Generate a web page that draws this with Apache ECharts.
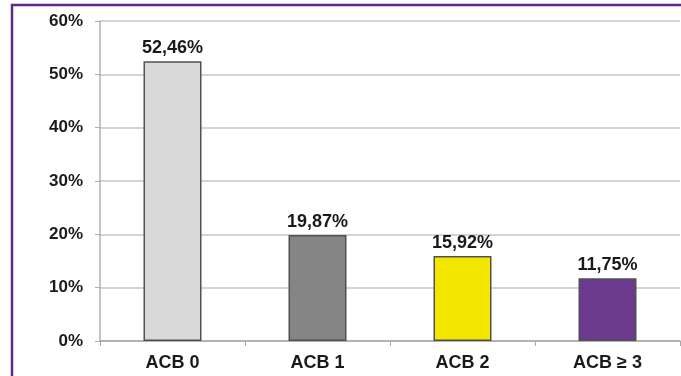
<!DOCTYPE html>
<html>
<head>
<meta charset="utf-8">
<script src="https://cdn.jsdelivr.net/npm/echarts@6/dist/echarts.min.js"></script>
<style>
  html, body { margin: 0; padding: 0; background: #fff; }
  #chart { width: 681px; height: 376px; }
</style>
</head>
<body>
<div id="chart"></div>
<script>
// ACB score groups and their share of patients
const categories = ['ACB 0', 'ACB 1', 'ACB 2', 'ACB \u2265 3'];
const shares = [52.46, 19.87, 15.92, 11.75];
const barColors = ['#d9d9d9', '#858585', '#f3e600', '#6b3a8e'];
const yTicks = [0, 10, 20, 30, 40, 50, 60];

const fontFamily = '"Liberation Sans", Arial, sans-serif';
const fmtPct = v => v.toFixed(2).replace('.', ',') + '%';

const chart = echarts.init(document.getElementById('chart'), null, { renderer: 'canvas' });

chart.setOption({
  animation: false,
  backgroundColor: '#ffffff',
  graphic: [{
    type: 'rect',
    shape: { x: 12, y: 5, width: 720, height: 420 },
    style: { fill: 'none', stroke: '#5c2a87', lineWidth: 2.5 },
    silent: true,
    z: 100
  }],
  grid: { left: 100, right: 1, top: 21, bottom: 35 },
  xAxis: {
    type: 'category',
    data: categories,
    axisLine: { lineStyle: { color: '#a8a8a8', width: 1.5 } },
    axisTick: { show: true, length: 5, lineStyle: { color: '#a8a8a8' } },
    axisLabel: {
      color: '#1a1a1a', fontFamily, fontWeight: 'bold', fontSize: 18, margin: 13
    }
  },
  yAxis: {
    type: 'value',
    min: yTicks[0],
    max: yTicks[yTicks.length - 1],
    interval: 10,
    axisLine: { show: true, lineStyle: { color: '#b0b0b0', width: 1.5 } },
    axisTick: { show: true, length: 5, lineStyle: { color: '#b0b0b0' } },
    splitLine: { lineStyle: { color: '#d4d4d4', width: 2 } },
    axisLabel: {
      color: '#1a1a1a', fontFamily, fontWeight: 'bold', fontSize: 17, margin: 17,
      formatter: v => v + '%'
    }
  },
  series: [{
    type: 'bar',
    barWidth: '40%',
    data: shares.map((v, i) => ({
      value: v,
      itemStyle: { color: barColors[i] }
    })),
    itemStyle: { borderColor: '#505050', borderWidth: 1.5 },
    label: {
      show: true,
      position: 'top',
      distance: 4,
      color: '#1a1a1a',
      fontFamily,
      fontWeight: 'bold',
      fontSize: 18,
      formatter: p => fmtPct(p.value)
    }
  }]
});
</script>
</body>
</html>
